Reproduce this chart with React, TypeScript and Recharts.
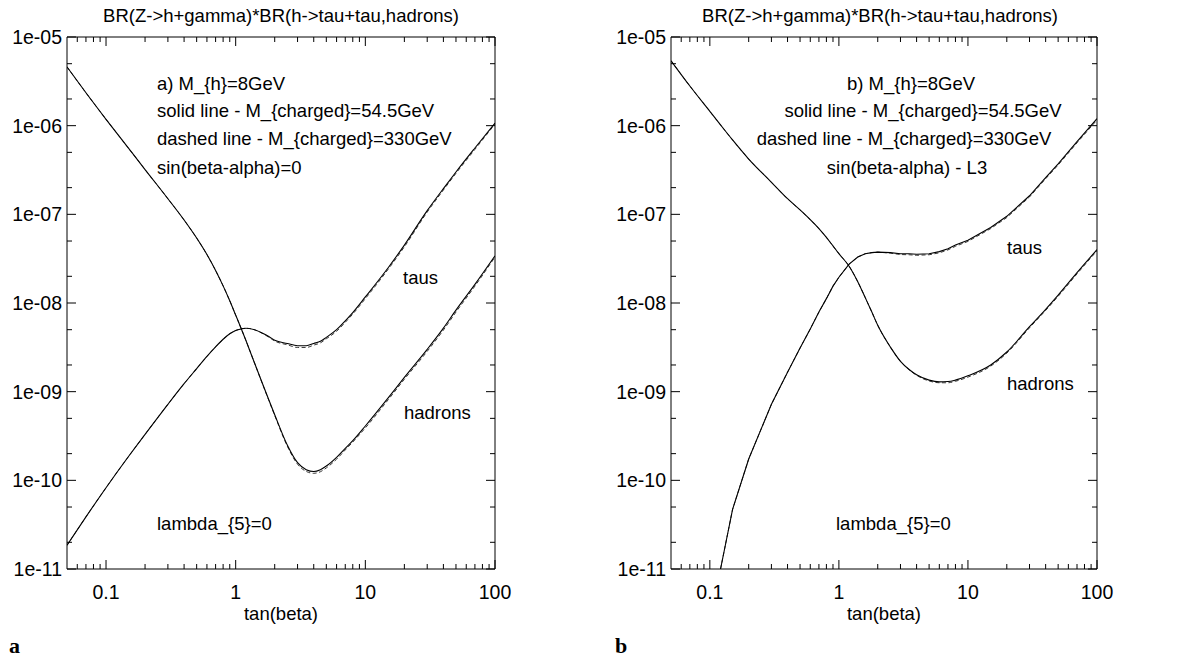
import React from "react";
import { LineChart, Line, XAxis, YAxis } from "recharts";

// ---------- data ----------
const tanBetaA = [0.05, 0.07, 0.1, 0.15, 0.2, 0.3, 0.4, 0.5, 0.6, 0.7, 0.8, 0.9, 1.0, 1.1, 1.2, 1.4, 1.6, 1.8, 2, 2.5, 3, 3.5, 4, 4.5, 5, 6, 7, 8, 10, 15, 20, 30, 40, 50, 70, 100];
const tausSolidA = [1.85e-11, 3.87e-11, 8.26e-11, 1.88e-10, 3.3e-10, 7.2e-10, 1.23e-9, 1.82e-9, 2.5e-9, 3.2e-9, 3.9e-9, 4.5e-9, 4.9e-9, 5.1e-9, 5.2e-9, 5.0e-9, 4.6e-9, 4.2e-9, 3.8e-9, 3.5e-9, 3.3e-9, 3.3e-9, 3.5e-9, 3.7e-9, 4.1e-9, 5.0e-9, 6.3e-9, 7.8e-9, 1.17e-8, 2.5e-8, 4.5e-8, 1.1e-7, 1.95e-7, 3.0e-7, 5.6e-7, 1.07e-6];
const tausDashedA = [1.85e-11, 3.87e-11, 8.26e-11, 1.88e-10, 3.3e-10, 7.2e-10, 1.23e-9, 1.82e-9, 2.5e-9, 3.2e-9, 3.9e-9, 4.5e-9, 4.9e-9, 5.1e-9, 5.2e-9, 4.98e-9, 4.55e-9, 4.12e-9, 3.72e-9, 3.38e-9, 3.15e-9, 3.15e-9, 3.35e-9, 3.55e-9, 3.95e-9, 4.8e-9, 6.05e-9, 7.5e-9, 1.12e-8, 2.4e-8, 4.3e-8, 1.06e-7, 1.88e-7, 2.9e-7, 5.4e-7, 1.04e-6];
const hadronsSolidA = [4.6e-6, 2.35e-6, 1.18e-6, 5.5e-7, 3.2e-7, 1.5e-7, 8.63e-8, 5.4e-8, 3.52e-8, 2.33e-8, 1.56e-8, 1.06e-8, 7.3e-9, 5.2e-9, 3.77e-9, 2.09e-9, 1.26e-9, 8.1e-10, 5.5e-10, 2.5e-10, 1.58e-10, 1.32e-10, 1.26e-10, 1.32e-10, 1.45e-10, 1.82e-10, 2.3e-10, 2.8e-10, 4.1e-10, 8.5e-10, 1.45e-9, 3.0e-9, 5.2e-9, 8.3e-9, 1.62e-8, 3.4e-8];
const hadronsDashedA = [4.6e-6, 2.35e-6, 1.18e-6, 5.5e-7, 3.2e-7, 1.5e-7, 8.63e-8, 5.4e-8, 3.52e-8, 2.33e-8, 1.56e-8, 1.06e-8, 7.3e-9, 5.2e-9, 3.77e-9, 2.09e-9, 1.25e-9, 8.0e-10, 5.4e-10, 2.43e-10, 1.52e-10, 1.26e-10, 1.2e-10, 1.25e-10, 1.38e-10, 1.73e-10, 2.2e-10, 2.7e-10, 3.9e-10, 8.1e-10, 1.38e-9, 2.85e-9, 4.95e-9, 7.9e-9, 1.55e-8, 3.3e-8];

const tanBetaB = [0.05, 0.07, 0.1, 0.121, 0.15, 0.2, 0.3, 0.4, 0.5, 0.6, 0.7, 0.8, 0.9, 1.0, 1.2, 1.4, 1.6, 1.8, 2, 2.5, 3, 3.5, 4, 5, 6, 7, 8, 10, 15, 20, 30, 40, 50, 70, 100];
const tausSolidB = [null, null, null, 1.0e-11, 4.7e-11, 1.74e-10, 7.2e-10, 1.66e-9, 3.1e-9, 5.1e-9, 7.9e-9, 1.12e-8, 1.55e-8, 1.95e-8, 2.75e-8, 3.3e-8, 3.6e-8, 3.7e-8, 3.75e-8, 3.7e-8, 3.6e-8, 3.6e-8, 3.55e-8, 3.6e-8, 3.8e-8, 4.1e-8, 4.5e-8, 5.1e-8, 7.1e-8, 9.5e-8, 1.62e-7, 2.6e-7, 3.7e-7, 6.6e-7, 1.2e-6];
const tausDashedB = [null, null, null, 1.0e-11, 4.7e-11, 1.74e-10, 7.2e-10, 1.66e-9, 3.1e-9, 5.1e-9, 7.9e-9, 1.12e-8, 1.55e-8, 1.95e-8, 2.75e-8, 3.3e-8, 3.6e-8, 3.7e-8, 3.75e-8, 3.65e-8, 3.52e-8, 3.5e-8, 3.45e-8, 3.5e-8, 3.68e-8, 3.97e-8, 4.36e-8, 4.95e-8, 6.9e-8, 9.2e-8, 1.57e-7, 2.52e-7, 3.6e-7, 6.4e-7, 1.16e-6];
const hadronsSolidB = [5.4e-6, 2.8e-6, 1.45e-6, 1.02e-6, 6.9e-7, 4.2e-7, 2.3e-7, 1.5e-7, 1.12e-7, 8.7e-8, 6.9e-8, 5.5e-8, 4.4e-8, 3.6e-8, 2.6e-8, 1.74e-8, 1.15e-8, 7.9e-9, 5.6e-9, 3.2e-9, 2.2e-9, 1.78e-9, 1.55e-9, 1.35e-9, 1.29e-9, 1.3e-9, 1.35e-9, 1.51e-9, 2.0e-9, 2.8e-9, 5.4e-9, 8.5e-9, 1.23e-8, 2.2e-8, 4.0e-8];
const hadronsDashedB = [5.4e-6, 2.8e-6, 1.45e-6, 1.02e-6, 6.9e-7, 4.2e-7, 2.3e-7, 1.5e-7, 1.12e-7, 8.7e-8, 6.9e-8, 5.5e-8, 4.4e-8, 3.6e-8, 2.6e-8, 1.74e-8, 1.15e-8, 7.9e-9, 5.6e-9, 3.2e-9, 2.2e-9, 1.77e-9, 1.53e-9, 1.32e-9, 1.26e-9, 1.26e-9, 1.31e-9, 1.46e-9, 1.94e-9, 2.72e-9, 5.25e-9, 8.25e-9, 1.19e-8, 2.13e-8, 3.88e-8];

const xMajorTicks = [0.1, 1, 10, 100];
const xMajorLabels = ["0.1", "1", "10", "100"];
const xMinorTicks = [0.06, 0.07, 0.08, 0.09, 0.2, 0.3, 0.4, 0.5, 0.6, 0.7, 0.8, 0.9, 2, 3, 4, 5, 6, 7, 8, 9, 20, 30, 40, 50, 60, 70, 80, 90];
const yMajorTicks = [1e-11, 1e-10, 1e-9, 1e-8, 1e-7, 1e-6, 1e-5];
const yMajorLabels = ["1e-11", "1e-10", "1e-09", "1e-08", "1e-07", "1e-06", "1e-05"];
const yMinorTicks = [2e-11, 5e-11, 2e-10, 5e-10, 2e-9, 5e-9, 2e-8, 5e-8, 2e-7, 5e-7, 2e-6, 5e-6];

const FONT = "'Liberation Sans', Arial, Helvetica, sans-serif";
const FS = 18.5;
const TFS = 19.5;
const MAJ = 9;
const MIN = 5;

const allXTicks = [...xMajorTicks, ...xMinorTicks];
const allYTicks = [...yMajorTicks, ...yMinorTicks];

function xIndex(v: number) {
  return xMajorTicks.findIndex((t) => Math.abs(t - v) / t < 1e-6);
}
function yIndex(v: number) {
  return yMajorTicks.findIndex((t) => Math.abs(t - v) / t < 1e-6);
}

function BottomTick(props: any) {
  const { x, y, payload } = props;
  const i = xIndex(payload.value);
  const len = i >= 0 ? MAJ : MIN;
  return (
    <g>
      <line x1={x} y1={y} x2={x} y2={y - len} stroke="#000" strokeWidth={1} />
      {i >= 0 && (
        <text x={x} y={y + 23} textAnchor="middle" dominantBaseline="central" fontFamily={FONT} fontSize={TFS} fill="#000">
          {xMajorLabels[i]}
        </text>
      )}
    </g>
  );
}
function TopTick(props: any) {
  const { x, y, payload } = props;
  const i = xIndex(payload.value);
  const len = i >= 0 ? MAJ : MIN;
  return <line x1={x} y1={y} x2={x} y2={y + len} stroke="#000" strokeWidth={1} />;
}
function LeftTick(props: any) {
  const { x, y, payload } = props;
  const i = yIndex(payload.value);
  const len = i >= 0 ? MAJ : MIN;
  return (
    <g>
      <line x1={x} y1={y} x2={x + len} y2={y} stroke="#000" strokeWidth={1} />
      {i >= 0 && (
        <text x={x - 5} y={y} textAnchor="end" dominantBaseline="central" fontFamily={FONT} fontSize={TFS} fill="#000">
          {yMajorLabels[i]}
        </text>
      )}
    </g>
  );
}
function RightTick(props: any) {
  const { x, y, payload } = props;
  const i = yIndex(payload.value);
  const len = i >= 0 ? MAJ : MIN;
  return <line x1={x} y1={y} x2={x - len} y2={y} stroke="#000" strokeWidth={1} />;
}

function Panel(props: { rows: any[]; width: number; yAxisWidth: number; right: number; tausLinear?: boolean }) {
  const { rows, width, yAxisWidth, right, tausLinear } = props;
  const axisLine = { stroke: "#000", strokeWidth: 1 };
  return (
    <LineChart width={width} height={661} data={rows} margin={{ top: 36, right: right - 1, bottom: 0, left: 0 }}>
      <XAxis
        xAxisId="b"
        dataKey="x"
        type="number"
        scale="log"
        domain={[0.05, 100]}
        allowDataOverflow
        ticks={allXTicks}
        interval={0}
        height={92}
        tickSize={0}
        tickMargin={0}
        tickLine={false}
        axisLine={axisLine}
        tick={(p: any) => <BottomTick {...p} />}
      />
      <XAxis
        xAxisId="t"
        orientation="top"
        dataKey="x"
        type="number"
        scale="log"
        domain={[0.05, 100]}
        allowDataOverflow
        ticks={allXTicks}
        interval={0}
        height={1}
        tickSize={0}
        tickMargin={0}
        tickLine={false}
        axisLine={axisLine}
        tick={(p: any) => <TopTick {...p} />}
      />
      <YAxis
        yAxisId="l"
        type="number"
        scale="log"
        domain={[1e-11, 1e-5]}
        allowDataOverflow
        ticks={allYTicks}
        interval={0}
        width={yAxisWidth}
        tickSize={0}
        tickMargin={0}
        tickLine={false}
        axisLine={axisLine}
        tick={(p: any) => <LeftTick {...p} />}
      />
      <YAxis
        yAxisId="r"
        orientation="right"
        type="number"
        scale="log"
        domain={[1e-11, 1e-5]}
        allowDataOverflow
        ticks={allYTicks}
        interval={0}
        width={1}
        tickSize={0}
        tickMargin={0}
        tickLine={false}
        axisLine={axisLine}
        tick={(p: any) => <RightTick {...p} />}
      />
      <Line xAxisId="t" yAxisId="r" dataKey="hadS" type="linear" stroke="none" strokeWidth={0} dot={false} activeDot={false} isAnimationActive={false} />
      <Line xAxisId="b" yAxisId="l" dataKey="hadD" type="monotone" stroke="#222" strokeWidth={0.9} strokeDasharray="4 2.5" dot={false} isAnimationActive={false} />
      <Line xAxisId="b" yAxisId="l" dataKey="tauD" type={tausLinear ? "linear" : "monotone"} stroke="#222" strokeWidth={0.9} strokeDasharray="4 2.5" dot={false} isAnimationActive={false} />
      <Line xAxisId="b" yAxisId="l" dataKey="hadS" type="monotone" stroke="#000" strokeWidth={1.1} dot={false} isAnimationActive={false} />
      <Line xAxisId="b" yAxisId="l" dataKey="tauS" type={tausLinear ? "linear" : "monotone"} stroke="#000" strokeWidth={1.1} dot={false} isAnimationActive={false} />
    </LineChart>
  );
}

const rowsA = tanBetaA.map((x, i) => ({ x, tauS: tausSolidA[i], tauD: tausDashedA[i], hadS: hadronsSolidA[i], hadD: hadronsDashedA[i] }));
const rowsB = tanBetaB.map((x, i) => ({ x, tauS: tausSolidB[i], tauD: tausDashedB[i], hadS: hadronsSolidB[i], hadD: hadronsDashedB[i] }));

const title = "BR(Z->h+gamma)*BR(h->tau+tau,hadrons)";

export default function App() {
  const t = { fontFamily: FONT, fontSize: FS, fill: "#000" } as any;
  const serif = "'Liberation Serif', 'DejaVu Serif', serif";
  return (
    <div style={{ position: "absolute", left: 0, top: 0, width: 1204, height: 661, background: "#fff", overflow: "hidden" }}>
      <div style={{ position: "absolute", left: 0, top: 0 }}>
        <Panel rows={rowsA} width={600} yAxisWidth={67} right={105} />
      </div>
      <div style={{ position: "absolute", left: 600, top: 0 }}>
        <Panel rows={rowsB} width={604} yAxisWidth={71} right={107} tausLinear />
      </div>
      <svg width={1204} height={661} style={{ position: "absolute", left: 0, top: 0, pointerEvents: "none" }}>
        <text x={281} y={15} textAnchor="middle" dominantBaseline="central" {...t}>{title}</text>
        <text x={157} y={83} dominantBaseline="central" {...t}>a) M_{"{h}"}=8GeV</text>
        <text x={157} y={110} dominantBaseline="central" {...t}>solid line - M_{"{charged}"}=54.5GeV</text>
        <text x={157} y={138} dominantBaseline="central" {...t}>dashed line - M_{"{charged}"}=330GeV</text>
        <text x={157} y={167} dominantBaseline="central" {...t}>sin(beta-alpha)=0</text>
        <text x={403} y={277} dominantBaseline="central" {...t}>taus</text>
        <text x={404} y={412} dominantBaseline="central" {...t}>hadrons</text>
        <text x={157} y={523} dominantBaseline="central" {...t}>lambda_{"{5}"}=0</text>
        <text x={281} y={613} textAnchor="middle" dominantBaseline="central" {...t}>tan(beta)</text>
        <text x={9} y={653} fontFamily={serif} fontWeight="bold" fontSize={22} fill="#000">a</text>

        <text x={880} y={15} textAnchor="middle" dominantBaseline="central" {...t}>{title}</text>
        <text x={911} y={83} textAnchor="middle" dominantBaseline="central" {...t}>b) M_{"{h}"}=8GeV</text>
        <text x={923} y={110} textAnchor="middle" dominantBaseline="central" {...t}>solid line - M_{"{charged}"}=54.5GeV</text>
        <text x={904} y={138} textAnchor="middle" dominantBaseline="central" {...t}>dashed line - M_{"{charged}"}=330GeV</text>
        <text x={907} y={167} textAnchor="middle" dominantBaseline="central" {...t}>sin(beta-alpha) - L3</text>
        <text x={1007} y={247} dominantBaseline="central" {...t}>taus</text>
        <text x={1007} y={383} dominantBaseline="central" {...t}>hadrons</text>
        <text x={836} y={523} dominantBaseline="central" {...t}>lambda_{"{5}"}=0</text>
        <text x={884} y={613} textAnchor="middle" dominantBaseline="central" {...t}>tan(beta)</text>
        <text x={615} y={653} fontFamily={serif} fontWeight="bold" fontSize={22} fill="#000">b</text>
      </svg>
    </div>
  );
}
